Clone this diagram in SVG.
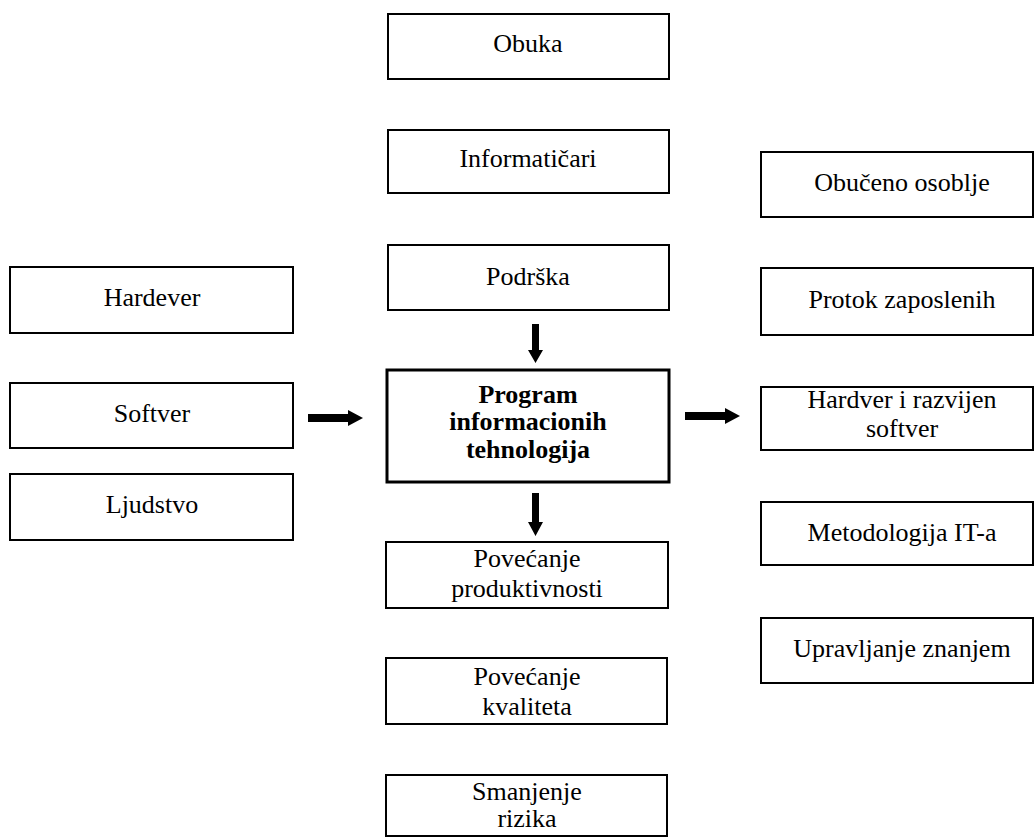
<svg xmlns="http://www.w3.org/2000/svg" width="1035" height="837" viewBox="0 0 1035 837">
<style>
.box{fill:#fff;stroke:#000;stroke-width:2}
.main{fill:#fff;stroke:#000;stroke-width:3}
text{font-family:"Liberation Serif","Times New Roman",serif;font-size:26px;fill:#000;text-anchor:middle}
.b{font-weight:bold}
.arr{fill:#000}
</style>
<rect width="1035" height="837" fill="#fff"/>
<g font-family="Liberation Serif, serif">
<g id="obuka"><rect class="box" x="388" y="14" width="281" height="65"/><text x="528" y="52">Obuka</text></g>
<g id="informaticari"><rect class="box" x="388" y="130" width="281" height="63"/><text x="528" y="167">Informatičari</text></g>
<g id="podrska"><rect class="box" x="388" y="245" width="281" height="65"/><text x="528" y="285">Podrška</text></g>
<g id="program"><rect class="main" x="387" y="370" width="282" height="112"/><text class="b" x="528" y="403">Program</text><text class="b" x="528" y="430">informacionih</text><text class="b" x="528" y="458">tehnologija</text></g>
<g id="povecanje-produktivnosti"><rect class="box" x="386" y="542" width="282" height="66"/><text x="527" y="567">Povećanje</text><text x="527" y="597">produktivnosti</text></g>
<g id="povecanje-kvaliteta"><rect class="box" x="386" y="658" width="281" height="66"/><text x="527" y="685">Povećanje</text><text x="527" y="715">kvaliteta</text></g>
<g id="smanjenje-rizika"><rect class="box" x="386" y="775" width="281" height="61"/><text x="527" y="800">Smanjenje</text><text x="527" y="827">rizika</text></g>
<g id="hardever"><rect class="box" x="10" y="267" width="283" height="66"/><text x="152" y="306">Hardever</text></g>
<g id="softver"><rect class="box" x="10" y="383" width="283" height="65"/><text x="152" y="422">Softver</text></g>
<g id="ljudstvo"><rect class="box" x="10" y="474" width="283" height="66"/><text x="152" y="513">Ljudstvo</text></g>
<g id="obuceno-osoblje"><rect class="box" x="761" y="152" width="272" height="65"/><text x="902" y="191">Obučeno osoblje</text></g>
<g id="protok-zaposlenih"><rect class="box" x="761" y="268" width="272" height="67"/><text x="902" y="308">Protok zaposlenih</text></g>
<g id="hardver-softver"><rect class="box" x="761" y="387" width="272" height="63"/><text x="902" y="408">Hardver i razvijen</text><text x="902" y="437">softver</text></g>
<g id="metodologija"><rect class="box" x="761" y="502" width="272" height="63"/><text x="902" y="541">Metodologija IT-a</text></g>
<g id="upravljanje-znanjem"><rect class="box" x="761" y="618" width="272" height="65"/><text x="902" y="657">Upravljanje znanjem</text></g>
</g>
<g id="connectors">
<polygon class="arr" points="532,324 539,324 539,350 543,350 535.5,363 528,350 532,350"/>
<polygon class="arr" points="532,493 539,493 539,522 543,522 535.5,536 528,522 532,522"/>
<polygon class="arr" points="308,414 348,414 348,410 363,418 348,426 348,422 308,422"/>
<polygon class="arr" points="685,412 725,412 725,408 740,416 725,424 725,420 685,420"/>
</g>
</svg>
